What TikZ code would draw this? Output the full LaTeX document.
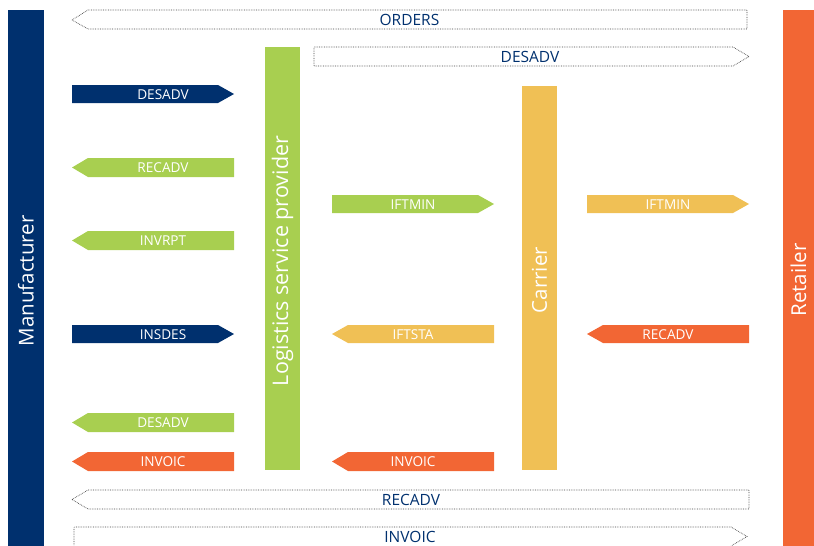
\documentclass[tikz,border=0pt]{standalone}
\usepackage{fontspec}
\setmainfont{Open Sans}
\definecolor{navy}{RGB}{0,48,110}
\definecolor{lgreen}{RGB}{168,207,80}
\definecolor{lyellow}{RGB}{240,192,85}
\definecolor{lorange}{RGB}{242,102,52}
\tikzset{
  lbl/.style={inner sep=0pt, text=white, font=\fontsize{13.6}{15}\selectfont},
  dlbl/.style={inner sep=0pt, text=navy, font=\fontsize{15.5}{18}\selectfont},
  bartxt/.style={inner sep=0pt, text=white, rotate=90, font=\fontsize{20.5}{24}\selectfont},
  dots/.style={draw=black!75, densely dotted, line width=0.7pt}
}
\begin{document}
\begin{tikzpicture}[x=1pt,y=-1pt]
\useasboundingbox (0,0) rectangle (814,546);
% bars
\fill[navy] (8,10) rectangle (44,546);
\node[bartxt] (manu) at (26,281) {Manufacturer};
\fill[lorange] (783,10) rectangle (814,546);
\node[bartxt] (ret) at (798.5,280) {Retailer};
\fill[lgreen] (265,47) rectangle (300,470);
\node[bartxt, font=\fontsize{21.5}{24}\selectfont] (lsp) at (282.5,261) {Logistics service provider};
\fill[lyellow] (522,86) rectangle (557,470);
\node[bartxt] (car) at (539.5,280) {Carrier};
% dotted arrows
\draw[dots] (72,20) -- (88,10) -- (747,10) -- (747,29) -- (88,29) -- cycle;
\node[dlbl] (orders) at (409.5,20) {ORDERS};
\draw[dots] (314,47) -- (733,47) -- (749,56.5) -- (733,66) -- (314,66) -- cycle;
\node[dlbl] (desadvtop) at (530,57) {DESADV};
\draw[dots] (72,499.5) -- (88,490) -- (749,490) -- (749,509) -- (88,509) -- cycle;
\node[dlbl] (recadvbot) at (411,500) {RECADV};
\draw[dots] (74,552) -- (74,527) -- (731,527) -- (747,536.5) -- (731,546);
\node[dlbl] (invoicbot) at (410,537) {INVOIC};
% left column
\fill[navy] (72,85) -- (218,85) -- (234,94) -- (218,103) -- (72,103) -- cycle;
\node[lbl] (l1) at (163,94.5) {DESADV};
\fill[lgreen] (72,167.5) -- (88,158) -- (234,158) -- (234,177) -- (88,177) -- cycle;
\node[lbl] (l2) at (163,168) {RECADV};
\fill[lgreen] (72,240.5) -- (88,231) -- (234,231) -- (234,250) -- (88,250) -- cycle;
\node[lbl] (l3) at (163,241) {INVRPT};
\fill[navy] (72,325) -- (218,325) -- (234,334) -- (218,343) -- (72,343) -- cycle;
\node[lbl] (l4) at (163,334.5) {INSDES};
\fill[lgreen] (72,422.5) -- (88,413) -- (234,413) -- (234,432) -- (88,432) -- cycle;
\node[lbl] (l5) at (163,423) {DESADV};
\fill[lorange] (72,461.5) -- (88,452) -- (234,452) -- (234,471) -- (88,471) -- cycle;
\node[lbl] (l6) at (163,462) {INVOIC};
% middle column
\fill[lgreen] (332,195) -- (478,195) -- (494,204) -- (478,213) -- (332,213) -- cycle;
\node[lbl] (m1) at (413,204.5) {IFTMIN};
\fill[lyellow] (332,334) -- (348,325) -- (494,325) -- (494,343) -- (348,343) -- cycle;
\node[lbl] (m2) at (413,334.5) {IFTSTA};
\fill[lorange] (332,461.5) -- (348,452) -- (494,452) -- (494,471) -- (348,471) -- cycle;
\node[lbl] (m3) at (413,462) {INVOIC};
% right column
\fill[lyellow] (587,195) -- (733,195) -- (749,204) -- (733,213) -- (587,213) -- cycle;
\node[lbl] (r1) at (668,204.5) {IFTMIN};
\fill[lorange] (587,334) -- (603,325) -- (749,325) -- (749,343) -- (603,343) -- cycle;
\node[lbl] (r2) at (668,334.5) {RECADV};
\end{tikzpicture}
\end{document}
